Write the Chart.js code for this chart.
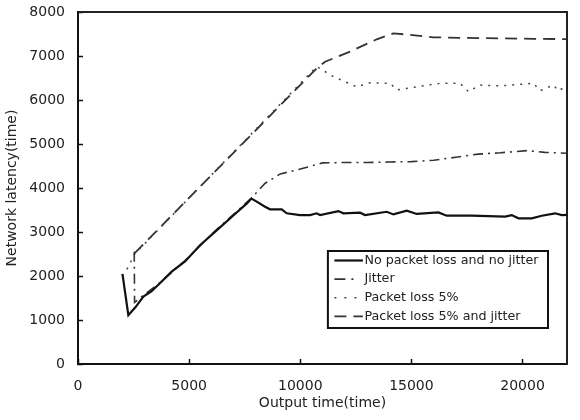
<!DOCTYPE html>
<html>
<head>
<meta charset="utf-8">
<script src="https://cdn.jsdelivr.net/npm/chart.js@4.4.2/dist/chart.umd.min.js"></script>
<style>
  html, body { margin: 0; padding: 0; background: #fff; }
  #wrap { width: 580px; height: 420px; }
</style>
</head>
<body>
<div id="wrap"><canvas id="latencyChart" width="580" height="420"></canvas></div>
<script>
// Axis ticks
const xTicks = [0, 5000, 10000, 15000, 20000];
const yTicks = [0, 1000, 2000, 3000, 4000, 5000, 6000, 7000, 8000];

// No packet loss and no jitter
const cleanX = [2000, 2265, 2600, 2940, 3300, 3615, 4215, 4815, 5490, 6200, 7000, 7600, 7800,
  8040, 8415, 8640, 9165, 9390, 9990, 10440, 10740, 10890, 11715, 11940, 12690, 12915,
  13890, 14190, 14790, 15240, 16215, 16590, 17715, 19215, 19515, 19815, 20415, 20865,
  21465, 21765, 22000];
const cleanY = [2050, 1110, 1300, 1530, 1650, 1800, 2100, 2330, 2700, 3020, 3380, 3650, 3760,
  3690, 3575, 3515, 3515, 3425, 3385, 3385, 3425, 3385, 3475, 3425, 3440, 3385,
  3460, 3400, 3485, 3410, 3445, 3370, 3370, 3350, 3385, 3310, 3310, 3370,
  3425, 3385, 3390];

// Jitter
const jitterX = [2530, 2545, 2940, 3615, 4815, 6200, 7000, 7800, 8400, 9100, 10000, 11000,
  12000, 13000, 14000, 15000, 16000, 17000, 18000, 19000, 20200, 21000, 22000];
const jitterY = [2550, 1400, 1560, 1820, 2350, 3040, 3400, 3770, 4100, 4320, 4430, 4570,
  4580, 4580, 4590, 4600, 4630, 4700, 4770, 4800, 4850, 4810, 4790];

// Packet loss 5%
const lossX = [2200, 2550, 10740, 11490, 12540, 13140, 14040, 14340, 15240, 16290, 17190,
  17565, 18090, 18990, 20490, 20790, 21390, 21615, 22000];
const lossY = [2150, 2500, 6760, 6530, 6300, 6390, 6380, 6230, 6300, 6380, 6380,
  6190, 6340, 6320, 6380, 6210, 6340, 6210, 6320];

// Packet loss 5% and jitter
const lossJitterX = [2550, 10740, 11115, 12240, 13440, 14190, 14940, 15990, 17490, 19000,
  20490, 22000];
const lossJitterY = [2520, 6720, 6870, 7100, 7380, 7515, 7480, 7425, 7410, 7400,
  7390, 7385];

const FONT = 'DejaVu Sans';

function toPoints(xs, ys) {
  return xs.map((x, i) => ({x: x, y: ys[i]}));
}

// boxed legend inside the plot, bottom right
const boxLegend = {
  id: 'boxLegend',
  afterDraw(chart) {
    const c = chart.ctx;
    const area = chart.chartArea;
    const sets = chart.data.datasets;
    c.save();
    c.font = '12.7px "' + FONT + '"';
    let maxW = 0;
    sets.forEach(ds => { maxW = Math.max(maxW, c.measureText(ds.label).width); });
    const w = 36 + maxW + 10;
    const h = 77;
    const x0 = area.right - 19 - w;
    const y0 = area.bottom - 36 - h;

    c.fillStyle = '#fff';
    c.fillRect(x0, y0, w, h);
    c.lineWidth = 2;
    c.strokeStyle = '#111';
    c.setLineDash([]);
    c.strokeRect(x0, y0, w, h);

    sets.forEach((ds, i) => {
      const yy = y0 + 9.5 + i * 18.6;
      c.beginPath();
      c.setLineDash(ds.legendDash || ds.borderDash || []);
      c.lineWidth = ds.borderWidth;
      c.strokeStyle = ds.borderColor;
      c.moveTo(x0 + 6.5, yy);
      c.lineTo(x0 + 35, yy);
      c.stroke();
      c.setLineDash([]);
      c.fillStyle = '#222';
      c.textBaseline = 'middle';
      c.textAlign = 'left';
      c.fillText(ds.label, x0 + 36.5, yy);
    });
    c.restore();
  }
};

// inward tick marks: negative tick length, ticks only
const innerTicks = {
  display: true,
  drawOnChartArea: false,
  drawTicks: true,
  tickLength: -5,
  tickWidth: 1.5,
  tickColor: '#111'
};

const canvasCtx = document.getElementById('latencyChart').getContext('2d');

new Chart(canvasCtx, {
  type: 'line',
  data: {
    datasets: [
      {
        label: 'No packet loss and no jitter',
        data: toPoints(cleanX, cleanY),
        borderColor: '#111',
        borderWidth: 2.2,
        borderDash: []
      },
      {
        label: 'Jitter',
        data: toPoints(jitterX, jitterY),
        borderColor: '#333',
        borderWidth: 1.6,
        borderDash: [10, 5, 2, 5],
        legendDash: [11, 6, 2, 30]
      },
      {
        label: 'Packet loss 5%',
        data: toPoints(lossX, lossY),
        borderColor: '#444',
        borderWidth: 1.5,
        borderDash: [2, 6],
        legendDash: [2, 8]
      },
      {
        label: 'Packet loss 5% and jitter',
        data: toPoints(lossJitterX, lossJitterY),
        borderColor: '#333',
        borderWidth: 1.8,
        borderDash: [12, 7]
      }
    ]
  },
  options: {
    responsive: false,
    animation: false,
    devicePixelRatio: 1,
    layout: {
      padding: {top: 11, right: 12, left: 0, bottom: 0}
    },
    elements: {
      point: {radius: 0, hoverRadius: 0},
      line: {tension: 0, fill: false}
    },
    plugins: {
      legend: {display: false},
      tooltip: {enabled: false}
    },
    scales: {
      x: {
        type: 'linear',
        position: 'bottom',
        min: 0,
        max: 22000,
        afterBuildTicks: scale => { scale.ticks = xTicks.map(v => ({value: v})); },
        afterFit: scale => {
          scale.height = 56;
          scale.paddingLeft = 0;
          scale.paddingRight = 0;
        },
        grid: innerTicks,
        border: {display: true, width: 2, color: '#111'},
        ticks: {
          padding: 19,
          color: '#222',
          font: {family: FONT, size: 14},
          maxRotation: 0,
          callback: v => String(v)
        },
        title: {
          display: true,
          text: 'Output time(time)',
          color: '#222',
          font: {family: FONT, size: 14},
          padding: {top: 0, bottom: 8}
        }
      },
      xTop: {
        type: 'linear',
        position: 'top',
        display: true,
        min: 0,
        max: 22000,
        afterFit: scale => {
          scale.height = 1;
          scale.paddingLeft = 0;
          scale.paddingRight = 0;
        },
        grid: {display: false, drawTicks: false},
        border: {display: true, width: 2, color: '#222'},
        ticks: {display: false}
      },
      y: {
        type: 'linear',
        position: 'left',
        min: 0,
        max: 8000,
        afterBuildTicks: scale => { scale.ticks = yTicks.map(v => ({value: v})); },
        afterFit: scale => {
          scale.width = 78;
          scale.paddingTop = 0;
          scale.paddingBottom = 0;
        },
        grid: innerTicks,
        border: {display: true, width: 2, color: '#111'},
        ticks: {
          padding: 18,
          color: '#222',
          font: {family: FONT, size: 14},
          callback: v => String(v)
        },
        title: {
          display: true,
          text: 'Network latency(time)',
          color: '#222',
          font: {family: FONT, size: 14},
          padding: {top: 4, bottom: 0}
        }
      },
      yRight: {
        type: 'linear',
        position: 'right',
        display: true,
        min: 0,
        max: 8000,
        afterFit: scale => {
          scale.width = 1;
          scale.paddingTop = 0;
          scale.paddingBottom = 0;
        },
        grid: {display: false, drawTicks: false},
        border: {display: true, width: 2, color: '#222'},
        ticks: {display: false}
      }
    }
  },
  plugins: [boxLegend]
});
</script>
</body>
</html>
